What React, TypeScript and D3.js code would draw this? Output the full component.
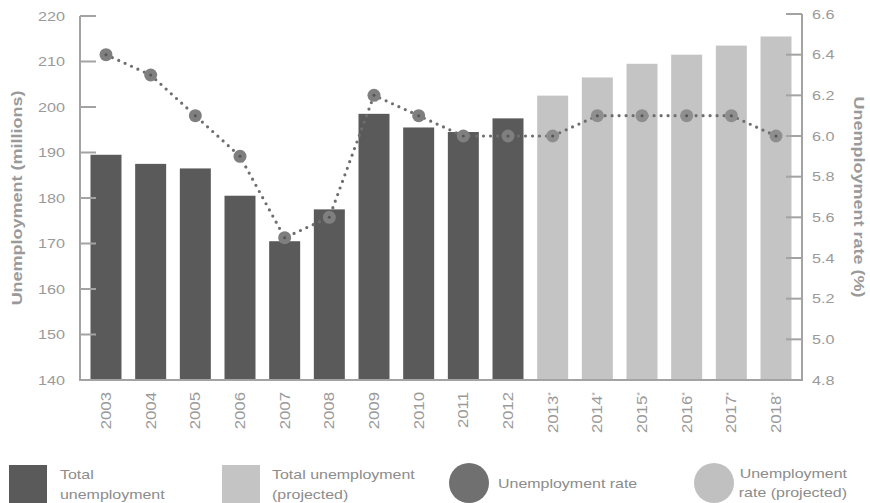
import React from "react";
import * as d3 from "d3";

const years = ["2003","2004","2005","2006","2007","2008","2009","2010","2011","2012","2013","2014","2015","2016","2017","2018"];
const projected = [false,false,false,false,false,false,false,false,false,false,true,true,true,true,true,true];
const totalUnemployment = [189.5,187.5,186.5,180.5,170.5,177.5,198.5,195.5,194.5,197.5,202.5,206.5,209.5,211.5,213.5,215.5];
const unemploymentRate = [6.4,6.3,6.1,5.9,5.5,5.6,6.2,6.1,6.0,6.0,6.0,6.1,6.1,6.1,6.1,6.0];
const leftTicks = [140,150,160,170,180,190,200,210,220];
const rightTicks = [4.8,5.0,5.2,5.4,5.6,5.8,6.0,6.2,6.4,6.6];

const W = 870, H = 503;
const AX = "#a3a3a3";
const TXT = "#9a9a9a";
const FONT = "'Liberation Sans', Arial, sans-serif";

function T({ x, y, rot = 0, anchor = "start", size = 13, fill = TXT, children, weight = 400 }: any) {
  return (
    <g transform={`translate(${x},${y}) rotate(${rot}) scale(1.2,1)`}>
      <text textAnchor={anchor} fontSize={size} fill={fill} fontFamily={FONT} fontWeight={weight}>{children}</text>
    </g>
  );
}

export default function App() {
  const x = d3.scaleBand<string>().domain(years).range([80, 802]).paddingInner(0.306).paddingOuter(0.235);
  const yL = d3.scaleLinear().domain([140, 220]).range([380, 16]);
  const yR = d3.scaleLinear().domain([4.8, 6.6]).range([380, 14]);
  const bw = x.bandwidth();
  const cx = (i: number) => (x(years[i]) as number) + bw / 2;

  const pts = years.map((_, i) => [cx(i), yR(unemploymentRate[i])] as [number, number]);
  const line = d3.line();

  return (
    <svg width={W} height={H} style={{ position: "absolute", left: 0, top: 0 }}>
      <rect width={W} height={H} fill="#fff" />
      {years.map((yr, i) => (
        <rect key={yr} x={x(yr)} y={yL(totalUnemployment[i])} width={bw}
          height={380 - yL(totalUnemployment[i])} fill={projected[i] ? "#c4c4c4" : "#5a5a5a"} />
      ))}
      <line x1={80} y1={16} x2={80} y2={381} stroke={AX} strokeWidth={2} />
      <line x1={79} y1={380} x2={803} y2={380} stroke={AX} strokeWidth={2} />
      <line x1={802} y1={14} x2={802} y2={381} stroke={AX} strokeWidth={2} />
      {leftTicks.map(t => (
        <g key={"l" + t}>
          <line x1={80} x2={96} y1={yL(t)} y2={yL(t)} stroke={AX} strokeWidth={2} />
          <T x={65} y={yL(t) + 4.8} anchor="end" size={13.5}>{t}</T>
        </g>
      ))}
      {rightTicks.map(t => (
        <g key={"r" + t}>
          <line x1={786} x2={802} y1={yR(t)} y2={yR(t)} stroke={AX} strokeWidth={2} />
          <T x={812} y={yR(t) + 4.8} size={13.5}>{t.toFixed(1)}</T>
        </g>
      ))}
      {years.map((yr, i) => (
        <g key={"x" + yr} transform={`translate(${cx(i) + 5},392) rotate(-90) scale(1.2,1)`}>
          <text textAnchor="end" fontSize={14} fill={TXT} fontFamily={FONT}>
            {yr}{projected[i] ? <tspan fontSize={8} dy={-5}>*</tspan> : null}
          </text>
        </g>
      ))}
      <T x={22} y={198} rot={-90} anchor="middle" size={15} weight={600}>Unemployment (millions)</T>
      <T x={854} y={197} rot={90} anchor="middle" size={15} weight={600}>Unemployment rate (%)</T>
      <path d={line(pts) || ""} fill="none" stroke="#6e6e6e" strokeWidth={3.2}
        strokeLinecap="round" strokeDasharray="0 7" />
      {pts.map((p, i) => (
        <g key={"p" + i}>
          <circle cx={p[0]} cy={p[1]} r={6.5} fill={projected[i] ? "#8e8e8e" : "#7f7f7f"} />
          <circle cx={p[0]} cy={p[1]} r={1.5} fill="#555" />
        </g>
      ))}
      <rect x={9} y={465} width={38} height={38} fill="#5a5a5a" />
      <T x={60} y={479} fill="#8c8c8c" size={13.3}>Total</T>
      <T x={60} y={499} fill="#8c8c8c" size={13.3}>unemployment</T>
      <rect x={222} y={465} width={38} height={38} fill="#c4c4c4" />
      <T x={272} y={479} fill="#8c8c8c" size={13.3}>Total unemployment</T>
      <T x={272} y={499} fill="#8c8c8c" size={13.3}>(projected)</T>
      <circle cx={469} cy={483} r={20} fill="#707070" />
      <T x={498} y={488} fill="#8c8c8c" size={13.3}>Unemployment rate</T>
      <circle cx={714} cy={483} r={20} fill="#c0c0c0" />
      <T x={847} y={478} anchor="end" fill="#8c8c8c" size={13.3}>Unemployment</T>
      <T x={847} y={497} anchor="end" fill="#8c8c8c" size={13.3}>rate (projected)</T>
    </svg>
  );
}
